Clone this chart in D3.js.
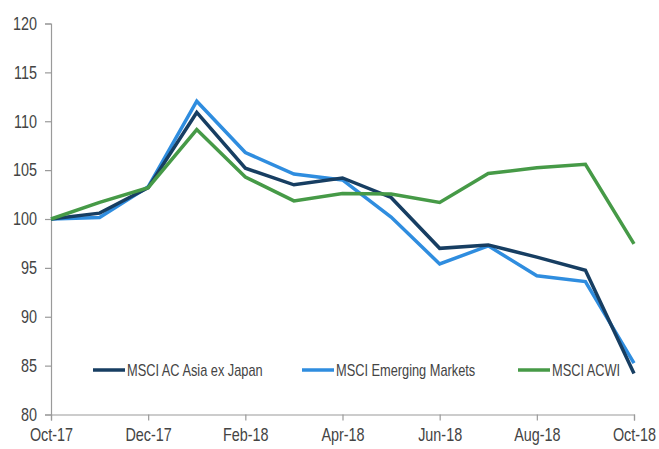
<!DOCTYPE html>
<html>
<head>
<meta charset="utf-8">
<script src="https://cdn.jsdelivr.net/npm/d3@7"></script>
<style>
  body { margin: 0; background: #fff; }
  text { font-family: "Liberation Sans", Arial, sans-serif; transform-box: fill-box; }
  .narrow-end { transform-origin: right center; transform: scaleX(0.8); }
  .narrow-mid { transform-origin: center center; transform: scaleX(0.8); }
  .narrow-start { transform-origin: left center; transform: scaleX(0.8); }
</style>
</head>
<body>
<div id="chart"></div>
<script>
// Monthly index values, Oct-17 = 100
const months = ['Oct-17', 'Nov-17', 'Dec-17', 'Jan-18', 'Feb-18', 'Mar-18', 'Apr-18',
                'May-18', 'Jun-18', 'Jul-18', 'Aug-18', 'Sep-18', 'Oct-18'];
const tickMonths = ['Oct-17', 'Dec-17', 'Feb-18', 'Apr-18', 'Jun-18', 'Aug-18', 'Oct-18'];
const yTicks = [80, 85, 90, 95, 100, 105, 110, 115, 120];

const asiaExJapan = [100, 100.6, 103.2, 110.9, 105.2, 103.5, 104.2, 102.2, 97.0, 97.35, 96.1, 94.75, 84.2];
const emergingMarkets = [100, 100.15, 103.3, 112.05, 106.8, 104.6, 104.0, 100.2, 95.4, 97.25, 94.2, 93.6, 85.25];
const acwi = [100, 101.7, 103.2, 109.15, 104.3, 101.85, 102.6, 102.55, 101.7, 104.65, 105.25, 105.6, 97.45];

const series = [
    { name: 'MSCI Emerging Markets', values: emergingMarkets, color: '#2f8ddf' },
    { name: 'MSCI AC Asia ex Japan', values: asiaExJapan, color: '#173e62' },
    { name: 'MSCI ACWI', values: acwi, color: '#469a47' }
];
const legendOrder = ['MSCI AC Asia ex Japan', 'MSCI Emerging Markets', 'MSCI ACWI'];

const width = 659, height = 449;
const margin = { left: 51, right: 25, top: 23.5, bottom: 34.5 };

const svg = d3.select('#chart').append('svg')
    .attr('width', width)
    .attr('height', height);

const x = d3.scalePoint()
    .domain(months)
    .range([margin.left, width - margin.right]);

const y = d3.scaleLinear()
    .domain([80, 120])
    .range([height - margin.bottom, margin.top]);

// axes
const yAxis = svg.append('g')
    .attr('transform', `translate(${margin.left},0)`)
    .call(d3.axisLeft(y).tickValues(yTicks).tickSize(6).tickPadding(8));
yAxis.selectAll('.tick text').attr('class', 'narrow-end');

const xAxis = svg.append('g')
    .attr('transform', `translate(0,${height - margin.bottom})`)
    .call(d3.axisBottom(x).tickValues(tickMonths).tickSize(6).tickPadding(8));
xAxis.selectAll('.tick text').attr('class', 'narrow-mid');

[yAxis, xAxis].forEach(g => {
    g.select('.domain').attr('stroke', '#9a9a9a').attr('stroke-width', 1.2);
    g.selectAll('.tick line').attr('stroke', '#9a9a9a').attr('stroke-width', 1.2);
    g.selectAll('.tick text')
        .attr('fill', '#444')
        .style('font-size', '18px');
});

// lines
const line = d3.line()
    .x((d, i) => x(months[i]))
    .y(d => y(d));

svg.append('g')
    .selectAll('path')
    .data(series)
    .enter().append('path')
    .attr('d', d => line(d.values))
    .attr('fill', 'none')
    .attr('stroke', d => d.color)
    .attr('stroke-width', 3.5)
    .attr('stroke-linejoin', 'miter');

// legend
const legendX = [93, 302, 518];
const legend = svg.append('g')
    .selectAll('g')
    .data(legendOrder.map(n => series.find(s => s.name === n)))
    .enter().append('g')
    .attr('transform', (d, i) => `translate(${legendX[i]},370)`);

legend.append('line')
    .attr('x1', 0).attr('x2', 32)
    .attr('stroke', d => d.color)
    .attr('stroke-width', 3.5);

legend.append('text')
    .attr('class', 'narrow-start')
    .attr('x', 34)
    .attr('dy', '0.35em')
    .attr('fill', '#444')
    .style('font-size', '16px')
    .text(d => d.name);
</script>
</body>
</html>
